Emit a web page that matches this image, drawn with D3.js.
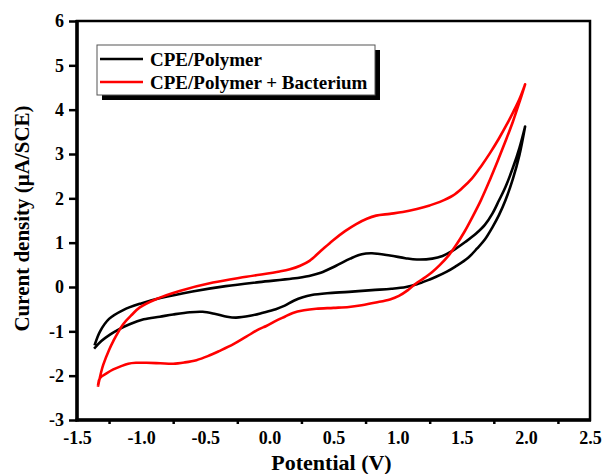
<!DOCTYPE html>
<html>
<head>
<meta charset="utf-8">
<script src="https://cdn.jsdelivr.net/npm/d3@7"></script>
<style>
  html, body { margin: 0; padding: 0; background: #fff; }
  svg { display: block; }
  text { font-family: "Liberation Serif", "Times New Roman", serif; font-weight: bold; fill: #000; }
</style>
</head>
<body>
<svg id="chart" width="602" height="474"></svg>
<script>
// Cyclic voltammograms: anodic sweep (low → high potential) followed by the cathodic return sweep.
const polymerForwardV = [-1.36, -1.32, -1.25, -1.14, -1.0, -0.85, -0.6, -0.34, -0.08, 0.18, 0.31, 0.40, 0.52, 0.63, 0.72, 0.80, 0.94, 1.06, 1.15, 1.27, 1.35, 1.43, 1.53, 1.61, 1.68, 1.74, 1.79, 1.84, 1.90, 1.95, 1.994];
const polymerForwardI = [-1.29, -1.00, -0.72, -0.52, -0.37, -0.25, -0.10, 0.02, 0.11, 0.19, 0.25, 0.32, 0.48, 0.64, 0.74, 0.76, 0.71, 0.65, 0.62, 0.64, 0.70, 0.82, 1.02, 1.20, 1.40, 1.66, 1.95, 2.25, 2.70, 3.14, 3.62];
const polymerReverseV = [1.994, 1.95, 1.90, 1.84, 1.79, 1.74, 1.68, 1.62, 1.55, 1.45, 1.38, 1.30, 1.25, 1.15, 1.066, 0.95, 0.80, 0.62, 0.45, 0.33, 0.26, 0.19, 0.12, 0.05, -0.05, -0.15, -0.26, -0.33, -0.42, -0.52, -0.62, -0.75, -0.854, -0.98, -1.09, -1.17, -1.24, -1.31, -1.36];
const polymerReverseI = [3.62, 2.98, 2.45, 1.95, 1.62, 1.35, 1.07, 0.87, 0.66, 0.46, 0.34, 0.23, 0.17, 0.06, 0.0, -0.04, -0.07, -0.11, -0.14, -0.18, -0.23, -0.31, -0.42, -0.50, -0.58, -0.65, -0.69, -0.67, -0.61, -0.56, -0.57, -0.62, -0.67, -0.73, -0.84, -0.95, -1.07, -1.22, -1.37];

const bacteriumForwardV = [-1.335, -1.31, -1.295, -1.25, -1.217, -1.14, -1.07, -1.01, -0.88, -0.70, -0.44, -0.18, 0.08, 0.16, 0.24, 0.313, 0.40, 0.495, 0.59, 0.677, 0.76, 0.832, 0.94, 1.04, 1.15, 1.25, 1.33, 1.43, 1.50, 1.58, 1.65, 1.72, 1.79, 1.85, 1.90, 1.95, 1.994];
const bacteriumForwardI = [-2.22, -1.90, -1.75, -1.42, -1.22, -0.84, -0.62, -0.46, -0.27, -0.09, 0.10, 0.23, 0.35, 0.40, 0.48, 0.59, 0.81, 1.05, 1.26, 1.42, 1.54, 1.61, 1.65, 1.69, 1.76, 1.84, 1.92, 2.06, 2.22, 2.45, 2.72, 3.02, 3.35, 3.66, 3.94, 4.24, 4.57];
const bacteriumReverseV = [1.994, 1.95, 1.90, 1.84, 1.78, 1.72, 1.65, 1.58, 1.52, 1.455, 1.40, 1.33, 1.27, 1.20, 1.143, 1.08, 1.01, 0.94, 0.83, 0.72, 0.62, 0.50, 0.365, 0.27, 0.183, 0.12, 0.054, -0.024, -0.08, -0.18, -0.28, -0.387, -0.48, -0.569, -0.66, -0.75, -0.85, -0.958, -1.04, -1.10, -1.16, -1.217, -1.27, -1.32, -1.335];
const bacteriumReverseI = [4.57, 4.17, 3.74, 3.28, 2.84, 2.42, 1.96, 1.56, 1.24, 0.94, 0.72, 0.50, 0.34, 0.19, 0.08, -0.07, -0.20, -0.28, -0.35, -0.41, -0.45, -0.47, -0.49, -0.525, -0.585, -0.67, -0.76, -0.88, -0.95, -1.12, -1.29, -1.44, -1.56, -1.65, -1.70, -1.73, -1.72, -1.71, -1.71, -1.73, -1.79, -1.86, -1.95, -2.05, -2.20];

const xTicks = [-1.5, -1.0, -0.5, 0.0, 0.5, 1.0, 1.5, 2.0, 2.5];
const xMinorTicks = [-1.25, -0.75, -0.25, 0.25, 0.75, 1.25, 1.75, 2.25];
const yTicks = [-3, -2, -1, 0, 1, 2, 3, 4, 5, 6];

const seriesNames = ["CPE/Polymer", "CPE/Polymer + Bacterium"];
const seriesColors = ["#000000", "#ff0000"];

const svg = d3.select("#chart");
const plot = { left: 77, right: 590, top: 21, bottom: 420 };

const x = d3.scaleLinear().domain([-1.5, 2.5]).range([plot.left, plot.right]);
const y = d3.scaleLinear().domain([-3, 6]).range([plot.bottom, plot.top]);

function loop(fv, fi, rv, ri) {
  const pts = fv.map((v, k) => [v, fi[k]]);
  return pts.concat(rv.map((v, k) => [v, ri[k]]));
}
const series = [
  loop(polymerForwardV, polymerForwardI, polymerReverseV, polymerReverseI),
  loop(bacteriumForwardV, bacteriumForwardI, bacteriumReverseV, bacteriumReverseI)
];

// Frame: thin top/right, heavier left/bottom axis lines
svg.append("rect")
  .attr("x", plot.left).attr("y", plot.top)
  .attr("width", plot.right - plot.left).attr("height", plot.bottom - plot.top)
  .attr("fill", "none").attr("stroke", "#000").attr("stroke-width", 2.5);

// Curves
const line = d3.line()
  .x(d => x(d[0])).y(d => y(d[1]))
  .curve(d3.curveCatmullRom.alpha(0.5));

svg.append("g").selectAll("path")
  .data(series)
  .join("path")
  .attr("d", line)
  .attr("fill", "none")
  .attr("stroke", (d, k) => seriesColors[k])
  .attr("stroke-width", 2.6)
  .attr("stroke-linejoin", "round")
  .attr("stroke-linecap", "square");

// Y axis
const yAxis = svg.append("g")
  .attr("transform", `translate(${plot.left},0)`)
  .call(d3.axisLeft(y).tickValues(yTicks).tickSize(8).tickPadding(5).tickFormat(d => String(d)));
yAxis.select(".domain").remove();
yAxis.selectAll(".tick line").attr("stroke-width", 2.5);
yAxis.selectAll(".tick text").style("font-size", "18px").style("font-family", "Liberation Serif").style("font-weight", "bold");

// X axis (labels) and minor ticks
const xAxis = svg.append("g")
  .attr("transform", `translate(0,${plot.bottom})`)
  .call(d3.axisBottom(x).tickValues(xTicks).tickSize(0).tickPadding(11).tickFormat(d => d.toFixed(1)));
xAxis.select(".domain").remove();
xAxis.selectAll(".tick text").style("font-size", "18px").style("font-family", "Liberation Serif").style("font-weight", "bold");

const xMinor = svg.append("g")
  .attr("transform", `translate(0,${plot.bottom})`)
  .call(d3.axisBottom(x).tickValues(xMinorTicks).tickSize(4).tickFormat(""));
xMinor.select(".domain").remove();
xMinor.selectAll(".tick line").attr("stroke-width", 2.5);

// Heavy axis lines
svg.append("line")
  .attr("x1", plot.left).attr("x2", plot.left)
  .attr("y1", plot.top - 1).attr("y2", plot.bottom + 1.5)
  .attr("stroke", "#000").attr("stroke-width", 3.5);
svg.append("line")
  .attr("x1", plot.left - 1.5).attr("x2", plot.right + 1)
  .attr("y1", plot.bottom).attr("y2", plot.bottom)
  .attr("stroke", "#000").attr("stroke-width", 3.5);

// Axis titles
svg.append("text")
  .attr("x", (plot.left + plot.right) / 2 - 2)
  .attr("y", 470)
  .attr("text-anchor", "middle")
  .style("font-size", "22px")
  .text("Potential (V)");

svg.append("text")
  .attr("transform", `translate(29,${(plot.top + plot.bottom) / 2 - 2}) rotate(-90)`)
  .attr("text-anchor", "middle")
  .style("font-size", "21px")
  .text("Curent density (\u03BCA/SCE)");

// Legend with drop shadow
const legend = { x: 97, y: 45, w: 278, h: 50 };
svg.append("rect")
  .attr("x", legend.x + 5).attr("y", legend.y + 5)
  .attr("width", legend.w).attr("height", legend.h)
  .attr("fill", "#000");
svg.append("rect")
  .attr("x", legend.x).attr("y", legend.y)
  .attr("width", legend.w).attr("height", legend.h)
  .attr("fill", "#fff").attr("stroke", "#555").attr("stroke-width", 1);

const rows = svg.append("g").selectAll("g")
  .data(seriesNames)
  .join("g")
  .attr("transform", (d, k) => `translate(${legend.x},${legend.y + 14 + k * 23})`);
rows.append("line")
  .attr("x1", 3).attr("x2", 46)
  .attr("y1", 0).attr("y2", 0)
  .attr("stroke", (d, k) => seriesColors[k])
  .attr("stroke-width", 2.6);
rows.append("text")
  .attr("x", 53).attr("y", 6.5)
  .style("font-size", "19px")
  .text(d => d);
</script>
</body>
</html>
